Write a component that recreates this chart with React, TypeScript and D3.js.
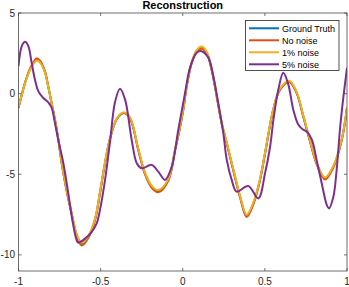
import React from "react";
import * as d3 from "d3";

const title = "Reconstruction";
const xTicks = [-1, -0.5, 0, 0.5, 1];
const yTicks = [5, 0, -5, -10];
const seriesNames = ["Ground Truth", "No noise", "1% noise", "5% noise"];
const seriesColors = ["#0072BD", "#D95319", "#EDB120", "#7E2F8E"];

const baseX = [-1.0, -0.96, -0.93, -0.889, -0.869, -0.839, -0.819, -0.798, -0.778, -0.758, -0.737, -0.707, -0.676, -0.646, -0.615, -0.575, -0.534, -0.504, -0.475, -0.443, -0.4, -0.358, -0.32, -0.271, -0.23, -0.189, -0.149, -0.088, -0.047, -0.017, 0.003, 0.024, 0.054, 0.085, 0.115, 0.146, 0.176, 0.207, 0.237, 0.268, 0.308, 0.349, 0.389, 0.43, 0.47, 0.501, 0.551, 0.592, 0.649, 0.694, 0.734, 0.775, 0.815, 0.866, 0.917, 0.968, 1.0];
const groundTruthY = [-0.88, 0.67, 1.5, 2.12, 1.98, 1.35, 0.45, -0.6, -1.62, -2.8, -4.3, -6.0, -7.45, -8.75, -9.32, -8.88, -7.8, -6.15, -4.4, -2.8, -1.55, -1.2, -1.55, -3.45, -4.94, -5.77, -6.05, -5.35, -3.5, -2.1, -1.0, 0.45, 1.9, 2.63, 2.82, 2.53, 1.5, -0.17, -1.83, -3.07, -4.73, -6.39, -7.58, -6.8, -5.35, -3.7, -1.0, 0.25, 0.74, 0.04, -1.41, -2.95, -4.32, -5.25, -4.53, -2.86, -0.88];
const noNoiseY = [-0.9, 0.68, 1.55, 2.2, 2.04, 1.38, 0.45, -0.62, -1.65, -2.82, -4.33, -6.05, -7.5, -8.82, -9.42, -8.95, -7.85, -6.18, -4.42, -2.8, -1.54, -1.2, -1.56, -3.5, -5.0, -5.85, -6.12, -5.4, -3.52, -2.1, -1.0, 0.43, 1.88, 2.6, 2.8, 2.5, 1.47, -0.2, -1.86, -3.1, -4.78, -6.45, -7.65, -6.86, -5.38, -3.72, -1.0, 0.24, 0.72, 0.02, -1.44, -2.98, -4.37, -5.32, -4.58, -2.88, -0.9];
const onePctY = [-0.85, 0.66, 1.47, 2.06, 1.93, 1.32, 0.43, -0.6, -1.62, -2.78, -4.26, -5.96, -7.4, -8.7, -9.25, -8.83, -7.75, -6.1, -4.36, -2.78, -1.52, -1.16, -1.5, -3.4, -4.88, -5.72, -5.98, -5.3, -3.45, -2.05, -0.95, 0.5, 1.96, 2.7, 2.92, 2.6, 1.56, -0.12, -1.78, -3.02, -4.68, -6.34, -7.52, -6.74, -5.3, -3.65, -0.96, 0.3, 0.8, 0.08, -1.36, -2.9, -4.27, -5.2, -4.48, -2.82, -0.85];

const noise5X = [-1.0, -0.98, -0.96, -0.94, -0.92, -0.9, -0.879, -0.849, -0.819, -0.798, -0.778, -0.758, -0.727, -0.697, -0.672, -0.646, -0.636, -0.595, -0.554, -0.524, -0.504, -0.473, -0.443, -0.412, -0.382, -0.351, -0.311, -0.28, -0.25, -0.189, -0.149, -0.108, -0.067, -0.027, 0.014, 0.044, 0.085, 0.115, 0.156, 0.186, 0.216, 0.247, 0.268, 0.298, 0.328, 0.399, 0.46, 0.501, 0.532, 0.552, 0.582, 0.612, 0.643, 0.673, 0.704, 0.734, 0.755, 0.786, 0.815, 0.846, 0.877, 0.89, 0.917, 0.937, 0.957, 0.977, 1.0];
const noise5Y = [1.7, 2.95, 3.22, 2.95, 1.91, 0.87, 0.14, -0.27, -0.54, -0.89, -1.83, -2.86, -4.32, -6.18, -7.85, -9.09, -9.24, -8.99, -8.57, -8.05, -7.22, -5.35, -3.0, -0.5, 0.31, -0.37, -2.86, -4.32, -4.63, -4.42, -4.84, -5.35, -4.53, -2.24, 0.04, 1.6, 2.53, 2.63, 2.22, 1.08, -0.58, -2.45, -4.11, -5.35, -6.08, -5.73, -6.5, -4.94, -3.28, -1.62, 0.25, 1.29, 0.56, -1.0, -1.93, -2.24, -2.35, -2.86, -4.11, -5.56, -6.91, -7.12, -6.39, -4.73, -2.24, -0.3, 1.6];

const W = 349;
const H = 287;
const left = 18.5;
const right = 347;
const top = 13;
const bottom = 271;

export default function App() {
  const x = d3.scaleLinear().domain([-1, 1]).range([left, right]);
  const y = d3.scaleLinear().domain([-11, 5]).range([bottom, top]);
  const line = d3
    .line<[number, number]>()
    .x((d) => x(d[0]))
    .y((d) => y(d[1]))
    .curve(d3.curveCatmullRom.alpha(0.5));

  const series: [number, number][][] = [
    baseX.map((v, i) => [v, groundTruthY[i]]),
    baseX.map((v, i) => [v, noNoiseY[i]]),
    baseX.map((v, i) => [v, onePctY[i]]),
    noise5X.map((v, i) => [v, noise5Y[i]]),
  ];

  const axisColor = "#4a4a4a";
  const textColor = "#262626";
  const font = "'Liberation Sans', Arial, Helvetica, sans-serif";
  const tickLen = 3;

  const legX = 245.5;
  const legY = 20.5;
  const legW = 93.5;
  const legH = 50;

  return (
    <svg
      width={W}
      height={H}
      style={{ position: "absolute", left: 0, top: 0, background: "#fff" }}
      fontFamily={font}
    >
      <rect x={0} y={0} width={W} height={H} fill="#fff" />
      <defs>
        <clipPath id="plotClip">
          <rect x={left} y={top} width={right - left} height={bottom - top} />
        </clipPath>
      </defs>
      <g clipPath="url(#plotClip)">
        {series.map((s, i) => (
          <path
            key={i}
            d={line(s) || ""}
            fill="none"
            stroke={seriesColors[i]}
            strokeWidth={2}
            strokeLinejoin="round"
          />
        ))}
      </g>
      <rect
        x={left}
        y={top}
        width={right - left}
        height={bottom - top}
        fill="none"
        stroke={axisColor}
        strokeWidth={0.8}
      />
      {xTicks.map((t) => (
        <g key={"x" + t}>
          <line x1={x(t)} x2={x(t)} y1={bottom} y2={bottom - tickLen} stroke={axisColor} strokeWidth={0.8} />
          <line x1={x(t)} x2={x(t)} y1={top} y2={top + tickLen} stroke={axisColor} strokeWidth={0.8} />
          <text x={x(t)} y={285} fontSize={10} fill={textColor} textAnchor="middle">
            {String(t)}
          </text>
        </g>
      ))}
      {yTicks.map((t) => (
        <g key={"y" + t}>
          <line x1={left} x2={left + tickLen} y1={y(t)} y2={y(t)} stroke={axisColor} strokeWidth={0.8} />
          <line x1={right} x2={right - tickLen} y1={y(t)} y2={y(t)} stroke={axisColor} strokeWidth={0.8} />
          <text x={15} y={y(t) + 3.5} fontSize={10} fill={textColor} textAnchor="end">
            {String(t)}
          </text>
        </g>
      ))}
      <text
        x={(left + right) / 2}
        y={9}
        fontSize={11}
        fontWeight="bold"
        fill="#000"
        textAnchor="middle"
      >
        {title}
      </text>
      <rect x={legX} y={legY} width={legW} height={legH} fill="#fff" stroke={textColor} strokeWidth={0.8} />
      {seriesNames.map((n, i) => {
        const ly = 28.3 + i * 12;
        return (
          <g key={n}>
            <line x1={249} x2={279} y1={ly} y2={ly} stroke={seriesColors[i]} strokeWidth={2} />
            <text x={282} y={ly + 3.2} fontSize={9} fill="#000">
              {n}
            </text>
          </g>
        );
      })}
    </svg>
  );
}
